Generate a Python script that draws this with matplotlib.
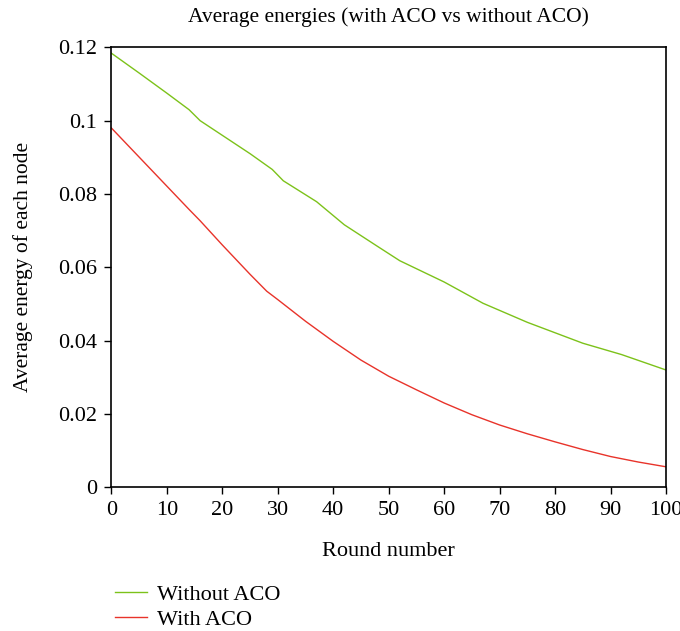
import matplotlib
matplotlib.use("Agg")
import matplotlib.pyplot as plt

# values
rounds_without = [0, 5, 10, 14, 16, 20, 25, 29, 31, 37, 42, 48, 52, 60, 67, 75, 85, 92, 100]
energy_without = [0.1184, 0.1130, 0.1075, 0.1030, 0.1000, 0.0960, 0.0910, 0.0867, 0.0836,
                  0.0779, 0.0716, 0.0657, 0.0618, 0.0560, 0.0502, 0.0450, 0.0393, 0.0362, 0.0320]

rounds_with = [0, 7, 14, 16, 20, 25, 28, 30, 35, 40, 45, 50, 55, 60, 65, 70, 75, 80, 85, 90, 95, 100]
energy_with = [0.0980, 0.0869, 0.0758, 0.0727, 0.0661, 0.0581, 0.0535, 0.0512, 0.0453,
               0.0398, 0.0347, 0.0303, 0.0266, 0.0230, 0.0198, 0.0170, 0.0146, 0.0124, 0.0103,
               0.0084, 0.0069, 0.0056]

x_ticks = list(range(0, 101, 10))
y_ticks = [0, 0.02, 0.04, 0.06, 0.08, 0.1, 0.12]
y_tick_labels = ["0", "0.02", "0.04", "0.06", "0.08", "0.1", "0.12"]

plt.rcParams["font.family"] = ["Liberation Serif", "DejaVu Serif"]

fig = plt.figure(figsize=(6.8, 6.31), dpi=100)
ax = fig.add_axes([0.1638, 0.2277, 0.8156, 0.6973])

ax.plot(rounds_without, energy_without, color="#7cc21a", lw=1.0, label="Without ACO")
ax.plot(rounds_with, energy_with, color="#e8332a", lw=1.0, label="With ACO")

ax.set_xlim(0, 100)
ax.set_ylim(0, 0.12)
ax.set_xticks(x_ticks)
ax.set_yticks(y_ticks)
ax.set_yticklabels(y_tick_labels)
ax.tick_params(direction="out", length=5, width=1, top=False, right=False,
               labelsize=16, pad=5)
for s in ax.spines.values():
    s.set_linewidth(1.2)

ax.set_title("Average energies (with ACO vs without ACO)", fontsize=15.5, pad=18)
ax.set_xlabel("Round number", fontsize=16, labelpad=16)
ax.set_ylabel("Average energy of each node", fontsize=15.5, labelpad=18)

fig.legend(loc="upper left", bbox_to_anchor=(0.156, 0.088), frameon=False,
           handlelength=1.45, handletextpad=0.45, labelspacing=0.2, borderaxespad=0,
           fontsize=16)

fig.savefig("out.png", dpi=100)
